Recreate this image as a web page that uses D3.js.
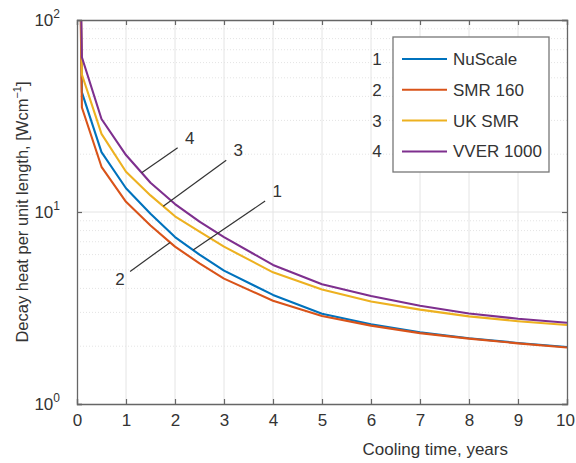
<!DOCTYPE html>
<html>
<head>
<meta charset="utf-8">
<script src="https://cdn.jsdelivr.net/npm/d3@7"></script>
<style>
body { margin: 0; background: #fff; }
text { font-family: 'Liberation Sans', Arial, sans-serif; fill: #333; }
.grid line { stroke: #e4e4e4; stroke-width: 1; }
.grid .minor { stroke-dasharray: 1,2; }
</style>
</head>
<body>
<svg width="576" height="463"></svg>
<script>
// cooling time (years) and decay heat per unit length (W/cm)
var times   = [0, 0.1, 0.5, 1, 1.5, 2, 2.5, 3, 4, 5, 6, 7, 8, 9, 10];
var nuscale = [3000, 42, 20.5, 13.3, 9.8, 7.4, 6.0, 4.95, 3.7, 2.95, 2.6, 2.36, 2.2, 2.08, 1.98];
var smr160  = [3000, 35, 17.2, 11.3, 8.5, 6.6, 5.4, 4.5, 3.45, 2.87, 2.56, 2.34, 2.19, 2.07, 1.97];
var uksmr   = [3000, 52, 25.5, 16.2, 12.2, 9.5, 7.9, 6.6, 4.85, 3.95, 3.42, 3.1, 2.86, 2.7, 2.58];
var vver    = [3000, 64, 30.5, 19.8, 14.2, 11.0, 8.9, 7.4, 5.3, 4.2, 3.65, 3.25, 2.96, 2.78, 2.65];

var names  = ['NuScale', 'SMR 160', 'UK SMR', 'VVER 1000'];
var colors = ['#0072BD', '#D95319', '#EDB120', '#7E2F8E'];
var xTicks = [0, 1, 2, 3, 4, 5, 6, 7, 8, 9, 10];
var yTicks = [1, 10, 100];

var series = [nuscale, smr160, uksmr, vver];

var svg = d3.select('svg'),
    margin = {top: 20, right: 9, bottom: 59, left: 77},
    width = +svg.attr('width') - margin.left - margin.right,
    height = +svg.attr('height') - margin.top - margin.bottom,
    g = svg.append('g').attr('transform', 'translate(' + margin.left + ',' + margin.top + ')');

var x = d3.scaleLinear().domain([0, 10]).range([0, width]),
    y = d3.scaleLog().domain([1, 100]).range([height, 0]);

// grid, major and minor (minor dotted, like matlab)
var minor = [];
[1, 10].forEach(function(dec) {
  for (var k = 2; k <= 9; k++) minor.push(dec * k);
});
var grid = g.append('g').attr('class', 'grid');
grid.selectAll('.vx').data(xTicks.slice(1, -1)).enter().append('line')
  .attr('x1', function(d) { return x(d); }).attr('x2', function(d) { return x(d); })
  .attr('y1', 0).attr('y2', height);
grid.selectAll('.mn').data(minor).enter().append('line')
  .attr('class', 'minor')
  .attr('x1', 0).attr('x2', width)
  .attr('y1', function(d) { return y(d); }).attr('y2', function(d) { return y(d); });
grid.append('line')
  .attr('x1', 0).attr('x2', width)
  .attr('y1', y(10)).attr('y2', y(10));

// lines
g.append('clipPath').attr('id', 'clip')
  .append('rect').attr('width', width).attr('height', height);

var line = d3.line()
  .x(function(d, i) { return x(times[i]); })
  .y(function(d) { return y(d); });

var plot = g.append('g').attr('clip-path', 'url(#clip)');
series.forEach(function(s, i) {
  plot.append('path')
    .attr('d', line(s))
    .attr('fill', 'none')
    .attr('stroke', colors[i])
    .attr('stroke-width', 2.1)
    .attr('stroke-linejoin', 'round');
});

// axes (box with inward ticks)
var axisColor = '#666';
function styleAxis(sel) {
  sel.select('.domain').attr('stroke', axisColor).attr('stroke-width', 1.3);
  sel.selectAll('.tick line').attr('stroke', axisColor).attr('stroke-width', 1.2);
  sel.selectAll('text').attr('fill', '#333').style('font-size', '17px')
    .style('font-family', "'Liberation Sans', Arial, sans-serif");
}

var xAxis = g.append('g')
  .attr('transform', 'translate(0,' + height + ')')
  .call(d3.axisBottom(x).tickValues(xTicks).tickSize(-5).tickPadding(10).tickFormat(d3.format('d')));
styleAxis(xAxis);
xAxis.selectAll('.tick').filter(function(d) { return d === 10; }).select('text').attr('dx', '-2');

var xTop = g.append('g')
  .call(d3.axisTop(x).tickValues(xTicks).tickSize(-5).tickFormat(''));
styleAxis(xTop);

var yAxis = g.append('g')
  .call(d3.axisLeft(y).tickValues(yTicks).tickSize(-5).tickFormat(''));
styleAxis(yAxis);

var yRight = g.append('g')
  .attr('transform', 'translate(' + width + ',0)')
  .call(d3.axisRight(y).tickValues(yTicks).tickSize(-5).tickFormat(''));
styleAxis(yRight);

// y tick labels as 10^n
var yLab = g.selectAll('.ylab').data(yTicks).enter().append('text')
  .attr('x', -17)
  .attr('y', function(d) { return y(d) + 6; })
  .attr('text-anchor', 'end')
  .style('font-size', '17px');
yLab.append('tspan').text('10');
yLab.append('tspan')
  .attr('dy', -8)
  .style('font-size', '12px')
  .text(function(d) { return Math.round(Math.log10(d)); });

// axis titles
g.append('text')
  .attr('x', 431)
  .attr('y', height + 51)
  .attr('text-anchor', 'end')
  .style('font-size', '17px')
  .text('Cooling time, years');

var yt = svg.append('text')
  .attr('transform', 'translate(28,' + (margin.top + height / 2) + ') rotate(-90)')
  .attr('text-anchor', 'middle')
  .style('font-size', '16.5px');
yt.append('tspan').text('Decay heat per unit length, [Wcm');
yt.append('tspan').attr('dy', -7).style('font-size', '11px').text('\u22121');
yt.append('tspan').attr('dy', 7).text(']');

// curve annotations: curve point at time t, label offset in pixels
var notes = [
  {label: '4', s: 3, t: 1.32, dx: 36, dy: -25},
  {label: '3', s: 2, t: 1.76, dx: 63, dy: -46},
  {label: '1', s: 0, t: 2.37, dx: 72, dy: -49},
  {label: '2', s: 1, t: 1.9, dx: -40, dy: 29}
];
function valueAt(s, t) {
  var i = d3.bisectRight(times, t) - 1;
  var f = (t - times[i]) / (times[i + 1] - times[i]);
  // interpolate in log space, as drawn on the log axis
  return Math.pow(10, Math.log10(s[i]) + f * (Math.log10(s[i + 1]) - Math.log10(s[i])));
}
notes.forEach(function(n) {
  var px = x(n.t), py = y(valueAt(series[n.s], n.t));
  g.append('line')
    .attr('x1', px).attr('y1', py)
    .attr('x2', px + n.dx).attr('y2', py + n.dy)
    .attr('stroke', '#333').attr('stroke-width', 1.2);
  g.append('text')
    .attr('x', px + n.dx + (n.dx > 0 ? 12 : -10))
    .attr('y', py + n.dy + (n.dy > 0 ? 14 : -4))
    .attr('text-anchor', 'middle')
    .style('font-size', '17px')
    .text(n.label);
});

// legend
var lg = g.append('g').attr('transform', 'translate(316,17)');
lg.append('rect')
  .attr('width', 156).attr('height', 135)
  .attr('fill', '#fff').attr('stroke', '#777').attr('stroke-width', 1.3);
names.forEach(function(nm, i) {
  var row = lg.append('g').attr('transform', 'translate(0,' + (22 + i * 30.8) + ')');
  row.append('line')
    .attr('x1', 9).attr('x2', 54)
    .attr('stroke', colors[i]).attr('stroke-width', 2);
  row.append('text')
    .attr('x', 60).attr('y', 6)
    .style('font-size', '17px')
    .text(nm);
  row.append('text')
    .attr('x', -16).attr('y', 6)
    .attr('text-anchor', 'middle')
    .style('font-size', '17px')
    .text(i + 1);
});
</script>
</body>
</html>
